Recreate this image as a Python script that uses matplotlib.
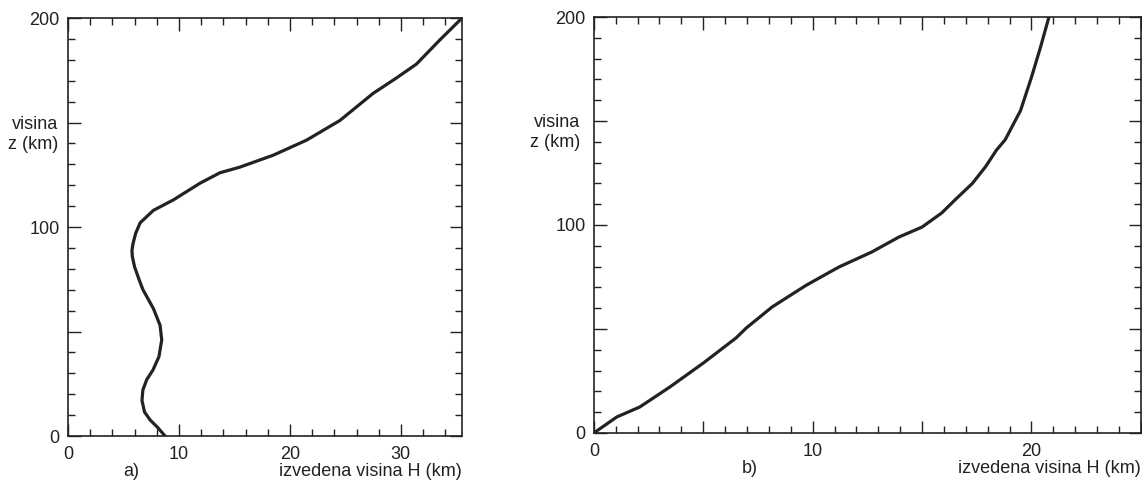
import matplotlib
matplotlib.use("Agg")
import matplotlib.pyplot as plt
from matplotlib.ticker import MultipleLocator

plt.rcParams['font.family'] = ['Liberation Sans', 'DejaVu Sans']

# a) derived height H vs altitude z
H_a = [8.75, 8.1, 7.4, 6.9, 6.67, 6.75, 7.1, 7.66, 8.2, 8.45, 8.3, 7.7, 6.76, 6.4,
       6.0, 5.8, 5.77, 5.86, 6.1, 6.5, 7.7, 9.5, 11.9, 13.7, 15.5, 18.5, 21.5,
       24.5, 26.0, 27.5, 29.5, 31.4, 33.5, 35.5]
z_a = [0, 4, 7.7, 11.5, 17, 22, 27, 31.6, 38, 46, 53, 61, 70, 75,
       81, 86, 89, 92, 97, 102, 108, 113, 121, 126, 128.7, 134.4, 141.6,
       151, 157.5, 164, 171, 178, 189.5, 200]

# b)
H_b = [0, 1.05, 2.1, 3.46, 5.0, 6.5, 6.97, 8.15, 9.7, 11.2, 12.7, 13.94, 15.0,
       15.9, 16.5, 17.3, 17.9, 18.4, 18.8, 19.5, 20.0, 20.4, 20.8]
z_b = [0, 7.7, 12.5, 22, 33.6, 45.7, 50.5, 60.6, 71, 79.8, 87, 94.2, 99,
       105.8, 112, 120, 128, 136, 141, 155, 171, 185, 200]

fig = plt.figure(figsize=(11.42, 4.82), dpi=100)
ax1 = fig.add_axes([0.0595, 0.0954, 0.345, 0.867])
ax2 = fig.add_axes([0.520, 0.1017, 0.479, 0.863])

ink = '#222222'
fs = 13
for ax, H, z, xmax, xmaj, xmin, tag, tagx in [
        (ax1, H_a, z_a, 35.5, 10, 2, 'a)', 0.16),
        (ax2, H_b, z_b, 25.0, 5, 1, 'b)', 0.285)]:
    ax.plot(H, z, color=ink, lw=2.3, solid_joinstyle='round')
    ax.set_xlim(0, xmax)
    ax.set_ylim(0, 200)
    ax.xaxis.set_major_locator(MultipleLocator(xmaj))
    ax.xaxis.set_minor_locator(MultipleLocator(xmin))
    ax.yaxis.set_major_locator(MultipleLocator(50))
    ax.yaxis.set_minor_locator(MultipleLocator(10))
    ax.tick_params(which='both', direction='in', top=True, right=True,
                   colors=ink, labelsize=fs, width=1)
    ax.tick_params(which='major', length=9)
    ax.tick_params(which='minor', length=5)
    ax.tick_params(axis='y', pad=6)
    ax.tick_params(axis='x', pad=7)
    for s in ax.spines.values():
        s.set_color(ink)
        s.set_linewidth(1.2)
    ax.set_yticks([0, 50, 100, 150, 200])
    ax.set_yticklabels(['0', '', '100', '', '200'])
    ax.text(-0.025, 0.722, 'visina\nz (km)', transform=ax.transAxes,
            ha='right', va='center', fontsize=fs, color=ink, linespacing=1.25)
    ax.text(tagx, -0.085, tag, transform=ax.transAxes, ha='center', va='center',
            fontsize=fs, color=ink)
    ax.text(1.0, -0.085, 'izvedena visina H (km)', transform=ax.transAxes,
            ha='right', va='center', fontsize=fs, color=ink)

ax1.set_xticks([0, 10, 20, 30])
ax1.set_xticklabels(['0', '10', '20', '30'])
ax2.set_xticks([0, 5, 10, 15, 20, 25])
ax2.set_xticklabels(['0', '', '10', '', '20', ''])

plt.savefig('out.png', dpi=100)
